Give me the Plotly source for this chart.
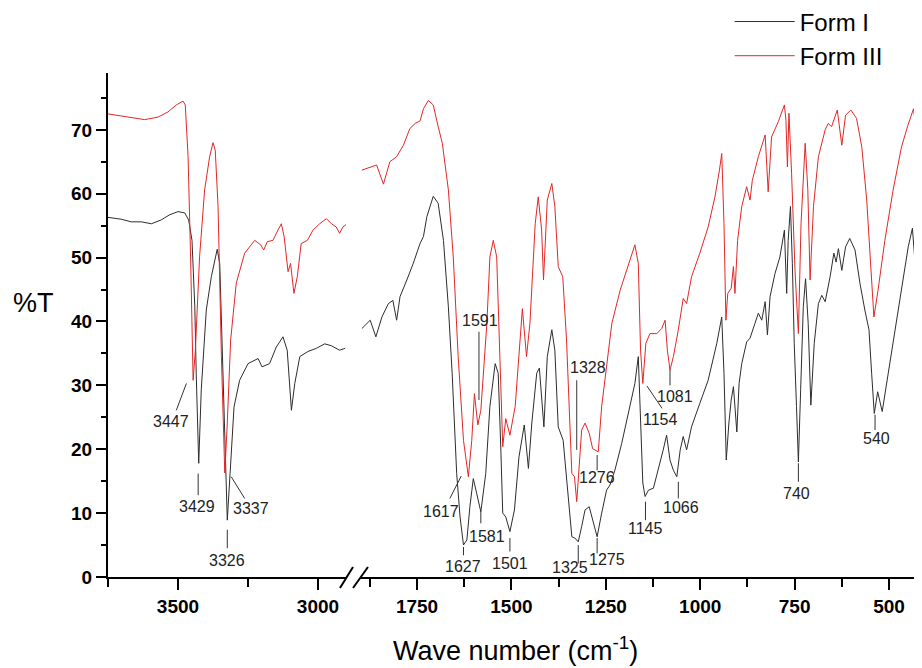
import plotly.graph_objects as go

# ---------------- data (wavenumber cm-1, %T) ----------------
# Form I, high-wavenumber segment (3750-2900)
form1_wn_hi = [3750, 3702, 3667, 3631, 3595, 3560, 3530, 3500, 3476, 3462, 3450, 3440, 3435, 3426, 3417,
               3399, 3381, 3360, 3351, 3339, 3324, 3314, 3300, 3280, 3250, 3214, 3200, 3173, 3149, 3125,
               3110, 3095, 3083, 3065, 3036, 3006, 2976, 2952, 2923, 2903]
form1_t_hi = [56.3, 56.0, 55.6, 55.6, 55.3, 55.9, 56.7, 57.2, 57.0, 55.9, 52.7, 42.3, 31.9, 17.8, 29.3,
              41.8, 47.0, 51.3, 49.1, 31.9, 8.9, 16.2, 26.6, 30.8, 33.4, 34.2, 32.9, 33.4, 36.0, 37.6,
              35.5, 26.1, 30.3, 34.5, 35.3, 35.8, 36.5, 36.2, 35.5, 35.8]

# Form III, high-wavenumber segment
form3_wn_hi = [3750, 3679, 3619, 3571, 3536, 3506, 3482, 3474, 3464, 3455, 3446, 3438, 3423, 3405, 3387,
               3375, 3367, 3357, 3345, 3333, 3324, 3312, 3292, 3262, 3226, 3205, 3194, 3181, 3161, 3143,
               3131, 3121, 3107, 3098, 3086, 3074, 3060, 3038, 3018, 2994, 2970, 2952, 2935, 2923, 2911, 2899]
form3_t_hi = [72.5, 72.0, 71.6, 72.0, 72.8, 73.9, 74.5, 73.9, 65.8, 50.1, 30.8, 35.5, 50.1, 60.6, 65.8,
              68.0, 66.8, 58.0, 34.5, 16.3, 24.1, 37.1, 46.0, 50.7, 52.7, 52.0, 51.2, 52.5, 52.7, 54.3,
              55.3, 53.3, 47.8, 49.1, 44.4, 47.0, 52.2, 52.7, 54.3, 55.3, 56.1, 55.3, 54.8, 53.8, 54.8, 55.2]

# Form I, fingerprint segment (1900-412)
form1_wn_lo = [1896, 1874, 1859, 1843, 1826, 1814, 1804, 1795, 1777, 1760, 1742, 1733, 1724, 1707, 1694,
               1680, 1667, 1657, 1645, 1636, 1627, 1618, 1610, 1601, 1592, 1581, 1568, 1557, 1543, 1535,
               1528, 1523, 1515, 1504, 1492, 1480, 1466, 1455, 1446, 1433, 1426, 1414, 1405, 1393, 1385,
               1376, 1363, 1352, 1340, 1332, 1323, 1314, 1305, 1294, 1283, 1273, 1261, 1248, 1239, 1226,
               1208, 1190, 1173, 1164, 1158, 1152, 1146, 1137, 1124, 1111, 1098, 1089, 1080, 1071, 1062,
               1053, 1045, 1036, 1023, 1001, 979, 956, 943, 937, 931, 924, 918, 912, 903, 897,
               890, 877, 868, 855, 846, 837, 828, 822, 815, 802, 789, 777, 771, 767, 761,
               756, 751, 745, 740, 734, 727, 721, 714, 707, 698, 687, 678, 669, 656, 646,
               640, 634, 625, 615, 604, 590, 577, 564, 553, 546, 539, 530, 518, 502, 484,
               466, 449, 438, 427, 418, 413]
form1_t_lo = [38.9, 40.2, 37.6, 40.7, 42.8, 43.3, 40.2, 43.9, 46.5, 49.1, 52.2, 53.3, 56.4, 59.6, 58.5,
              52.7, 42.3, 31.9, 16.2, 9.4, 5.0, 5.8, 11.0, 15.4, 13.1, 10.2, 16.2, 26.7, 33.4, 31.9,
              19.9, 10.0, 9.4, 7.1, 10.5, 18.8, 23.8, 17.0, 24.1, 31.9, 32.7, 23.5, 34.5, 38.7, 35.5,
              23.5, 21.4, 13.6, 6.3, 6.1, 5.5, 7.9, 10.5, 11.0, 8.4, 6.3, 10.0, 13.6, 14.4, 16.7,
              20.9, 25.6, 30.3, 34.5, 24.1, 14.7, 12.6, 13.6, 13.9, 16.7, 19.9, 22.2, 18.3, 16.7, 15.7,
              19.9, 22.0, 19.9, 23.5, 27.2, 30.8, 36.6, 40.7, 31.9, 18.3, 24.1, 27.7, 29.8, 22.7, 30.3,
              33.4, 36.8, 37.4, 39.7, 41.3, 40.2, 43.1, 37.9, 43.9, 47.5, 50.1, 54.3, 44.4, 52.7, 58.0,
              49.1, 36.6, 26.7, 18.0, 29.3, 42.3, 46.7, 39.7, 26.9, 36.6, 42.8, 44.1, 43.1, 47.0, 50.7,
              49.3, 51.4, 48.0, 51.7, 53.0, 51.2, 46.0, 41.8, 38.7, 31.9, 25.6, 29.0, 25.9, 31.9, 38.7,
              46.0, 51.7, 54.6, 46.2, 52.7, 54.8]

# Form III, fingerprint segment
form3_wn_lo = [1896, 1874, 1857, 1839, 1822, 1804, 1786, 1769, 1755, 1742, 1733, 1720, 1707, 1694, 1683,
               1667, 1654, 1641, 1627, 1614, 1605, 1598, 1589, 1581, 1565, 1557, 1548, 1539, 1530, 1523,
               1515, 1504, 1490, 1480, 1471, 1460, 1451, 1437, 1429, 1420, 1415, 1405, 1393, 1385, 1376,
               1364, 1354, 1340, 1333, 1327, 1320, 1314, 1305, 1294, 1285, 1270, 1261, 1248, 1234, 1212,
               1190, 1173, 1164, 1158, 1152, 1144, 1133, 1115, 1102, 1093, 1087, 1080, 1071, 1058, 1045,
               1036, 1023, 1001, 979, 961, 949, 943, 937, 932, 927, 918, 912, 908, 901, 890,
               877, 868, 862, 846, 828, 820, 811, 793, 777, 773, 769, 765, 758, 749, 740,
               733, 722, 715, 709, 700, 687, 669, 661, 652, 637, 625, 615, 601, 586, 572,
               559, 546, 540, 529, 511, 489, 467, 450, 435, 424, 413]
form3_t_lo = [63.7, 64.1, 64.5, 61.5, 65.0, 65.8, 67.6, 70.2, 71.0, 71.4, 73.3, 74.6, 73.9, 70.5, 67.9,
              60.6, 50.1, 34.5, 21.4, 15.7, 21.4, 28.7, 23.8, 26.1, 39.7, 50.1, 52.7, 50.1, 34.5, 20.4,
              24.8, 22.2, 26.7, 34.5, 42.0, 34.5, 39.7, 55.3, 59.5, 54.3, 46.5, 59.0, 61.6, 58.0, 48.6,
              47.0, 37.1, 16.2, 15.7, 11.8, 18.8, 23.0, 24.1, 22.5, 20.1, 19.6, 26.7, 32.9, 39.7, 44.9,
              49.1, 52.0, 49.1, 35.5, 30.3, 36.6, 38.1, 38.1, 38.9, 40.2, 35.5, 32.4, 34.5, 38.7, 43.6,
              42.8, 47.0, 50.7, 54.8, 59.5, 63.7, 66.3, 55.3, 40.2, 44.4, 45.2, 48.6, 44.4, 52.7, 58.0,
              61.1, 59.0, 62.1, 65.8, 69.2, 60.3, 68.9, 71.3, 73.9, 71.5, 64.2, 72.6, 63.2, 48.0, 38.1,
              55.3, 67.9, 60.6, 46.5, 58.0, 65.8, 70.0, 71.0, 70.5, 73.1, 67.6, 72.3, 73.1, 71.8, 67.3,
              59.0, 46.0, 40.7, 44.9, 52.7, 60.6, 67.3, 70.7, 73.3, 67.9, 73.1]

series_names = ["Form I", "Form III"]

# peak labels: text, axis, label position (wn, %T)
peak_labels = ["3447", "3429", "3337", "3326",
               "1591", "1617", "1627", "1581", "1501", "1328", "1276", "1325", "1275",
               "1154", "1081", "1145", "1066", "740", "540"]
peak_axis = ["x", "x", "x", "x"] + ["x2"] * 15
label_wn = [3526, 3431, 3240, 3324,
            1584, 1687, 1627, 1565, 1504, 1298, 1274, 1346, 1248,
            1106, 1067, 1144, 1052, 744, 533]
label_t = [24.3, 11.0, 10.7, 2.6,
           40.2, 10.2, 1.6, 6.3, 2.1, 32.8, 15.6, 1.5, 2.7,
           24.7, 28.3, 7.6, 10.9, 13.1, 21.7]
# leader lines (wn0, t0, wn1, t1)
leader_wn0 = [3506, 3428, 3262, 3324, 1586, 1663, 1627, 1581, 1504, 1327, 1273, 1323, 1273, 1141, 1080, 1145, 1058, 740, 537]
leader_t0 = [26.1, 16.2, 12.3, 7.4, 38.4, 12.3, 4.7, 10.2, 6.1, 30.8, 19.1, 5.0, 6.1, 29.9, 32.4, 11.8, 14.9, 17.8, 25.4]
leader_wn1 = [3470, 3428, 3310, 3324, 1586, 1633, 1627, 1581, 1504, 1327, 1273, 1323, 1273, 1101, 1080, 1145, 1058, 740, 537]
leader_t1 = [30.3, 12.8, 15.7, 4.5, 27.7, 15.8, 3.4, 8.4, 4.0, 19.9, 16.7, 2.1, 3.7, 26.4, 30.0, 8.9, 12.3, 14.9, 23.0]

# ---------------- figure ----------------
BLACK = "rgb(45,45,45)"
RED = "rgb(228,38,38)"
FONT = "Liberation Sans"

fig = go.Figure()
fig.add_trace(go.Scatter(x=form1_wn_hi, y=form1_t_hi, mode="lines", name=series_names[0],
                         line=dict(color=BLACK, width=1), xaxis="x", yaxis="y", legendgroup="f1"))
fig.add_trace(go.Scatter(x=form3_wn_hi, y=form3_t_hi, mode="lines", name=series_names[1],
                         line=dict(color=RED, width=1), xaxis="x", yaxis="y", legendgroup="f3"))
fig.add_trace(go.Scatter(x=form1_wn_lo, y=form1_t_lo, mode="lines", name=series_names[0],
                         line=dict(color=BLACK, width=1), xaxis="x2", yaxis="y", legendgroup="f1",
                         showlegend=False))
fig.add_trace(go.Scatter(x=form3_wn_lo, y=form3_t_lo, mode="lines", name=series_names[1],
                         line=dict(color=RED, width=1), xaxis="x2", yaxis="y", legendgroup="f3",
                         showlegend=False))

for txt, ax, xw, yt in zip(peak_labels, peak_axis, label_wn, label_t):
    fig.add_annotation(text=txt, x=xw, y=yt, xref=ax, yref="y", showarrow=False,
                       font=dict(family=FONT, size=16, color="#222"))
for ax, x0, y0, x1, y1 in zip(peak_axis, leader_wn0, leader_t0, leader_wn1, leader_t1):
    fig.add_shape(type="line", xref=ax, yref="y", x0=x0, y0=y0, x1=x1, y1=y1,
                  line=dict(color="#333", width=1))

# axis break marks
for xa, xb in [(0.285, 0.301), (0.301, 0.3194)]:
    fig.add_shape(type="line", xref="paper", yref="paper", x0=xa, y0=-0.0218, x1=xb, y1=0.0198,
                  line=dict(color="black", width=2))

tickfont = dict(family=FONT, size=19, color="black", weight="bold")
common_x = dict(showline=True, linecolor="black", linewidth=2, ticks="outside", ticklen=11,
                tickwidth=2, tickcolor="black", showgrid=False, zeroline=False, tickfont=tickfont,
                anchor="y")

# the page body has an 8px margin, so the figure is 8px smaller than the window
fig.update_layout(
    width=914, height=660,
    margin=dict(l=100, r=0, t=65, b=91, autoexpand=False),
    paper_bgcolor="white", plot_bgcolor="white",
    xaxis=dict(domain=[0, 0.2924], range=[3750, 2900], tick0=0, dtick=500,
               minor=dict(dtick=250, ticks="outside", ticklen=8, tickwidth=2, tickcolor="black"),
               **common_x),
    xaxis2=dict(domain=[0.3096, 1], range=[1901, 412.6], tick0=0, dtick=250,
                minor=dict(dtick=125, ticks="outside", ticklen=8, tickwidth=2, tickcolor="black"),
                **common_x),
    yaxis=dict(range=[0, 78.9], tick0=0, dtick=10, showline=True, linecolor="black", linewidth=2,
               ticks="outside", ticklen=10, tickwidth=2, tickcolor="black", showgrid=False,
               zeroline=False, tickfont=tickfont,
               minor=dict(dtick=5, ticks="outside", ticklen=5, tickwidth=2, tickcolor="black")),
    legend=dict(x=0.7637, y=1.146, xanchor="left", yanchor="top", bgcolor="rgba(0,0,0,0)",
                font=dict(family=FONT, size=24, color="black"), itemwidth=60, tracegroupgap=0),
    showlegend=True,
)

fig.add_annotation(text="Wave number (cm<sup>-1</sup>)", xref="paper", yref="paper", x=0.5, y=-0.1426,
                   xanchor="center", yanchor="middle", showarrow=False,
                   font=dict(family=FONT, size=27, color="black"))
fig.add_annotation(text="%T", xref="paper", yref="paper", x=-0.0921, y=0.5446,
                   xanchor="center", yanchor="middle", showarrow=False,
                   font=dict(family=FONT, size=27, color="black"))

fig.write_html("out.html")
